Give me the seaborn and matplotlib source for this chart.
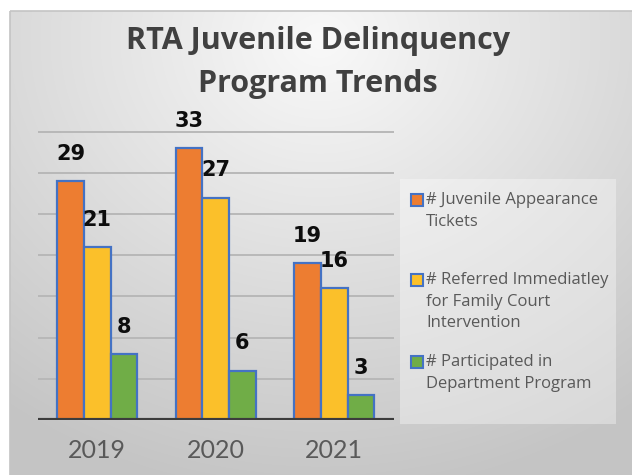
import numpy as np
import pandas as pd
import matplotlib
matplotlib.use("Agg")
import matplotlib.pyplot as plt
from matplotlib.patches import Rectangle
import seaborn as sns

# chart data
years = ["2019", "2020", "2021"]
series_names = [
    "# Juvenile Appearance\nTickets",
    "# Referred Immediatley\nfor Family Court\nIntervention",
    "# Participated in\nDepartment Program",
]
tickets = [29, 33, 19]
referred = [21, 27, 16]
participated = [8, 6, 3]
colors = ["#ED7D31", "#FBC02A", "#70AD47"]

rows = []
for name, vals in zip(series_names, [tickets, referred, participated]):
    for yr, v in zip(years, vals):
        rows.append({"Year": yr, "Series": name, "Count": v})
df = pd.DataFrame(rows)

sns.set_style("white")
plt.rcParams["font.family"] = ["Lato", "DejaVu Sans"]

W, H = 632, 475
fig = plt.figure(figsize=(W / 100, H / 100), dpi=100)
fig.patch.set_facecolor("white")

# background gradient panel
bg = fig.add_axes([0, 0, 1, 1], zorder=-10)
bg.set_xlim(0, W)
bg.set_ylim(H, 0)
bg.axis("off")
yy, xx = np.mgrid[0:H, 0:W]
r = np.sqrt(((xx - 320) / 1.15) ** 2 + ((yy - 40) / 1.0) ** 2)
shade = np.clip(249 - 0.115 * r, 196, 249) / 255.0
img = np.dstack([shade, shade, shade])
bg.imshow(img[11:, 10:], extent=[10, W, H, 11], aspect="auto", zorder=0)
bg.add_patch(Rectangle((10, 11), W, H, fill=False, edgecolor="#C4C4C4", lw=1.2, zorder=1))
# legend panel
bg.add_patch(Rectangle((400, 179), 216, 245, facecolor="white", alpha=0.35,
                       edgecolor="none", zorder=2))

# main plot area
top_val = 35.3
px_per_unit = 8.24
ax_h = top_val * px_per_unit
ax = fig.add_axes([38 / W, 55 / H, 355.5 / W, ax_h / H])
ax.set_facecolor("none")

sns.barplot(data=df, x="Year", y="Count", hue="Series", hue_order=series_names,
            palette=colors, width=0.675, edgecolor="#4472C4", linewidth=1.6,
            saturation=1, legend=False, ax=ax, zorder=3)

for container in ax.containers:
    for bar in container:
        h = bar.get_height()
        ax.annotate(f"{int(h)}", (bar.get_x() + bar.get_width() / 2, h),
                    xytext=(0, 19.5), textcoords="offset points",
                    ha="center", va="center", fontsize=15, fontweight="bold",
                    family="DejaVu Sans", color="#0D0D0D", annotation_clip=False,
                    zorder=5)

ax.set_xlim(-0.5, 2.5)
ax.set_ylim(0, top_val)
ax.set_yticks(range(0, 36, 5))
ax.set_yticklabels([])
ax.yaxis.grid(True, color="#B8B8B8", lw=1.4)
ax.set_axisbelow(True)
ax.axhline(0, color="#3C3C3C", lw=3, zorder=6)
for s in ax.spines.values():
    s.set_visible(False)
ax.tick_params(axis="both", length=0)
ax.tick_params(axis="x", pad=14, labelsize=18, labelcolor="#595959")
ax.set_xlabel("")
ax.set_ylabel("")

# title
title_kw = dict(ha="center", va="baseline", fontsize=22, fontweight="bold",
                color="#404040", family="Open Sans")
fig.text(0.503, 1 - 49 / H, "RTA Juvenile Delinquency", **title_kw)
fig.text(0.503, 1 - 92 / H, "Program Trends", **title_kw)

# legend entries
first_lines = [200, 280, 362]
for name, col, y0 in zip(series_names, colors, first_lines):
    bg.add_patch(Rectangle((411, y0 - 6), 12, 12, facecolor=col, edgecolor="#4472C4",
                           lw=1.5, zorder=4))
    for i, line in enumerate(name.split("\n")):
        bg.text(426, y0 + i * 21.5, line, ha="left", va="center", fontsize=12,
                family="Open Sans", color="#595959", zorder=4)

fig.savefig("out.png", dpi=100)
